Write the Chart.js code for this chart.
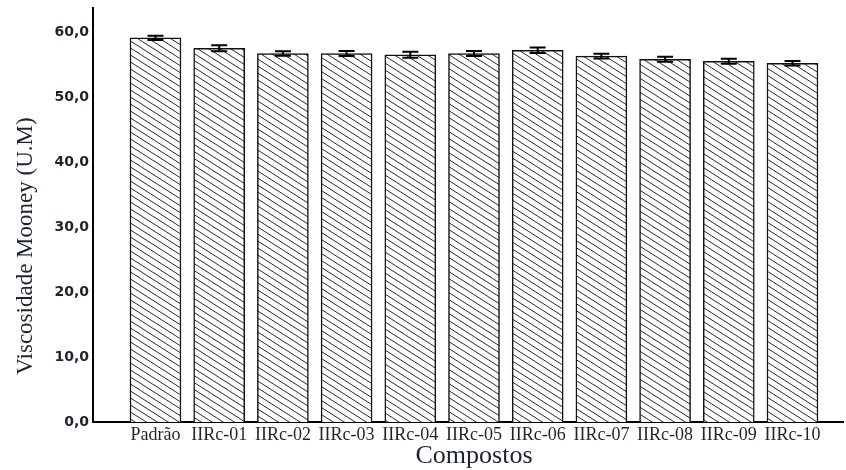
<!DOCTYPE html>
<html>
<head>
<meta charset="utf-8">
<script src="https://cdn.jsdelivr.net/npm/chart.js@4.4.1/dist/chart.umd.min.js"></script>
<style>
  html, body { margin: 0; padding: 0; background: #fff; }
  #wrap { width: 846px; height: 470px; }
</style>
</head>
<body>
<div id="wrap"><canvas id="chart" width="846" height="470"></canvas></div>
<script>
const categories = ["Padrão", "IIRc-01", "IIRc-02", "IIRc-03", "IIRc-04", "IIRc-05",
  "IIRc-06", "IIRc-07", "IIRc-08", "IIRc-09", "IIRc-10"];
const viscosity = [59.1, 57.5, 56.7, 56.7, 56.5, 56.7, 57.2, 56.3, 55.8, 55.5, 55.2];
const errors = [0.33, 0.46, 0.36, 0.38, 0.46, 0.38, 0.41, 0.36, 0.38, 0.38, 0.36];
const yTicks = [0, 10, 20, 30, 40, 50, 60];
const yTitle = "Viscosidade Mooney (U.M)";
const xTitle = "Compostos";

const textColor = "#1c2333";

function makeHatch() {
  const w = 11, h = 7;
  const c = document.createElement("canvas");
  c.width = w;
  c.height = h;
  const g = c.getContext("2d");
  g.fillStyle = "#fff";
  g.fillRect(0, 0, w, h);
  g.strokeStyle = "#2a2a2a";
  g.lineWidth = 1;
  [-h, 0, h].forEach((dy) => {
    g.beginPath();
    g.moveTo(-1, dy - h / w);
    g.lineTo(w + 1, dy + h + h / w);
    g.stroke();
  });
  return document.getElementById("chart").getContext("2d").createPattern(c, "repeat");
}

const errorBars = {
  id: "errorBars",
  afterDatasetsDraw(chart) {
    const { ctx, scales } = chart;
    ctx.save();
    ctx.strokeStyle = "#000";
    viscosity.forEach((v, i) => {
      const x = scales.x.getPixelForValue(i);
      const top = scales.y.getPixelForValue(v + errors[i]);
      const bot = scales.y.getPixelForValue(v - errors[i]);
      ctx.lineWidth = 2;
      ctx.beginPath();
      ctx.moveTo(x, top);
      ctx.lineTo(x, bot);
      ctx.moveTo(x - 8, top);
      ctx.lineTo(x + 8, top);
      ctx.moveTo(x - 8, bot);
      ctx.lineTo(x + 8, bot);
      ctx.stroke();
    });
    ctx.restore();
  },
};

const axisTitles = {
  id: "axisTitles",
  afterDraw(chart) {
    const { ctx } = chart;
    ctx.save();
    ctx.fillStyle = textColor;
    ctx.textAlign = "center";
    ctx.textBaseline = "middle";
    ctx.font = "23px 'Liberation Serif'";
    ctx.translate(26, 246);
    ctx.rotate(-Math.PI / 2);
    ctx.fillText(yTitle, 0, 0);
    ctx.restore();

    ctx.save();
    ctx.fillStyle = textColor;
    ctx.textAlign = "center";
    ctx.textBaseline = "middle";
    ctx.font = "26px 'Liberation Serif'";
    ctx.fillText(xTitle, 474, 456);
    ctx.restore();
  },
};

const ctx = document.getElementById("chart").getContext("2d");
new Chart(ctx, {
  type: "bar",
  data: {
    datasets: [
      {
        data: viscosity.map((v, i) => ({ x: i, y: v })),
        backgroundColor: makeHatch(),
        borderColor: "#111",
        borderWidth: 1.5,
        barThickness: 51,
      },
    ],
  },
  options: {
    responsive: false,
    animation: false,
    layout: { padding: { top: 8, right: 3, left: 0, bottom: 0 } },
    plugins: {
      legend: { display: false },
      tooltip: { enabled: false },
    },
    scales: {
      x: {
        type: "linear",
        offset: false,
        min: -0.981,
        max: 10.793,
        grid: { display: false, drawTicks: false, offset: false },
        border: { display: true, color: "#000", width: 2 },
        afterBuildTicks: (scale) => {
          scale.ticks = categories.map((_, i) => ({ value: i }));
        },
        afterFit: (scale) => {
          scale.height = 48;
          scale.paddingLeft = 0;
          scale.paddingRight = 0;
        },
        ticks: {
          autoSkip: false,
          maxRotation: 0,
          padding: 2,
          color: textColor,
          font: { family: "'Liberation Serif'", size: 18 },
          callback: (v) => categories[v] ?? "",
        },
      },
      y: {
        min: 0,
        max: 63.7,
        grid: { display: false, drawTicks: false },
        border: { display: true, color: "#000", width: 2 },
        afterBuildTicks: (scale) => {
          scale.ticks = yTicks.map((v) => ({ value: v }));
        },
        afterFit: (scale) => {
          scale.width = 93;
          scale.paddingTop = 0;
          scale.paddingBottom = 0;
        },
        ticks: {
          padding: 4,
          color: textColor,
          font: { family: "'DejaVu Sans'", size: 14, weight: "bold" },
          callback: (v) => v.toFixed(1).replace(".", ","),
        },
      },
    },
  },
  plugins: [errorBars, axisTitles],
});
</script>
</body>
</html>
